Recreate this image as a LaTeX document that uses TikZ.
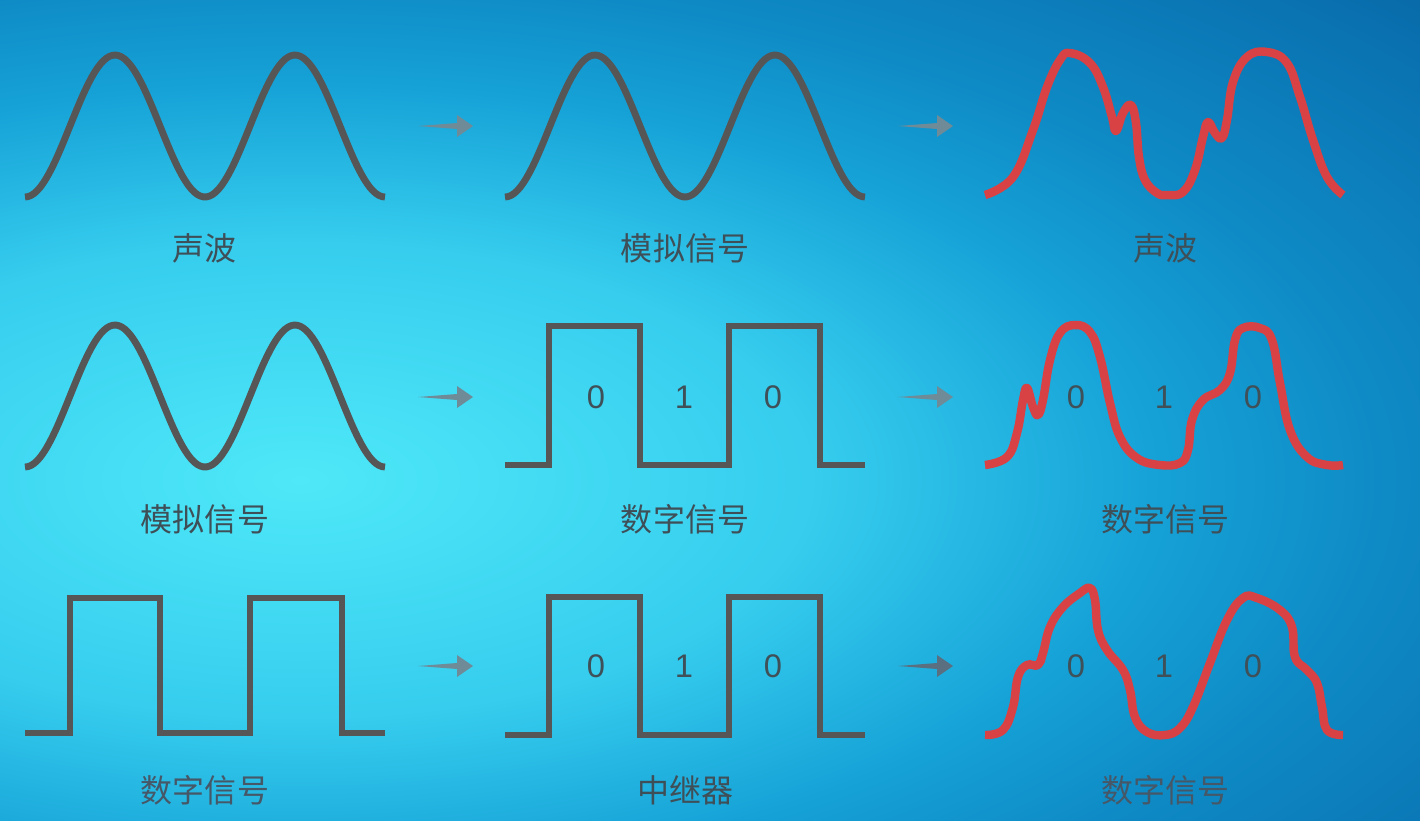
\documentclass[tikz,border=0pt]{standalone}
\usepackage{fontspec}
\setsansfont{Liberation Sans}
\newfontfamily\cjk{Noto Sans CJK SC}
\definecolor{glowA}{HTML}{4EE8F8}
\definecolor{glowB}{HTML}{36CDEE}
\definecolor{glowC}{HTML}{16A2D7}
\definecolor{glowD}{HTML}{0E8AC5}
\definecolor{glowE}{HTML}{0A72B1}
\definecolor{bgdeep}{HTML}{075C9A}
\definecolor{wavegray}{HTML}{565656}
\definecolor{wavered}{HTML}{D94244}
\definecolor{captext}{HTML}{3F4F58}
\definecolor{capfade}{HTML}{465868}
\definecolor{digittext}{HTML}{3F5058}
\definecolor{arrowgray}{HTML}{6F8B97}
\definecolor{arrowdark}{HTML}{5A7080}
\pgfdeclareradialshading{bgglow}{\pgfpoint{0bp}{0bp}}{color(0bp)=(glowA); color(7.5bp)=(glowB); color(12.5bp)=(glowC); color(16bp)=(glowD); color(21bp)=(glowE); color(25bp)=(bgdeep); color(50bp)=(bgdeep)}
\tikzset{
  graywave/.style={draw=wavegray, line width=1.95pt},
  redwave/.style={draw=wavered, line width=2.4pt, line join=round},
  caption/.style={text=captext, font=\cjk\fontsize{9.1}{11}\selectfont, inner sep=0pt},
  digit/.style={text=digittext, font=\sffamily\fontsize{9.3}{10}\selectfont, inner sep=0pt},
  arrowhint/.style={fill=arrowgray}
}
\begin{document}
\begin{tikzpicture}[x=0.01cm, y=-0.01cm]
\useasboundingbox (0,0) rectangle (1420,820);
\fill[bgdeep] (0,0) rectangle (1420,820);
\begin{scope}
\clip (0,0) rectangle (1420,820);
\shade[shading=bgglow] (300,480) ellipse [x radius=17cm, y radius=7.9cm];
\end{scope}
\draw[graywave] plot[domain=25:385, samples=120] (\x, {126-71*cos(2*(\x-115))});
\draw[graywave] plot[domain=505:865, samples=120] (\x, {126-71*cos(2*(\x-595))});
\draw[redwave] plot[smooth, tension=0.7] coordinates {(985,195) (1013,177) (1033,130) (1047,87) (1060,60) (1070,53) (1090,63) (1103,87) (1112,117) (1116,131) (1123,113) (1131,105) (1136,123) (1139,157) (1145,180) (1157,193) (1167,195) (1183,192) (1195,170) (1203,137) (1208,122) (1215,133) (1222,138) (1227,120) (1233,82) (1247,57) (1267,52) (1287,63) (1300,97) (1313,140) (1327,177) (1343,195)};
\draw[graywave] plot[domain=25:385, samples=120] (\x, {396-71*cos(2*(\x-115))});
\draw[graywave] (505,465) -- (549,465) -- (549,326) -- (640,326) -- (640,465) -- (729,465) -- (729,326) -- (820,326) -- (820,465) -- (865,465);
\draw[redwave] plot[smooth, tension=0.7] coordinates {(985,465) (1007,457) (1017,433) (1023,400) (1027,388) (1033,407) (1038,415) (1043,400) (1050,360) (1060,333) (1075,325) (1090,332) (1100,357) (1110,403) (1120,437) (1137,458) (1160,465) (1180,463) (1188,450) (1192,420) (1203,400) (1220,390) (1230,373) (1235,340) (1243,328) (1260,328) (1272,340) (1280,383) (1290,430) (1307,457) (1327,465) (1343,465)};
\draw[graywave] (25,733) -- (70,733) -- (70,598) -- (160,598) -- (160,733) -- (250,733) -- (250,598) -- (342,598) -- (342,733) -- (385,733);
\draw[graywave] (505,735) -- (549,735) -- (549,597) -- (640,597) -- (640,735) -- (729,735) -- (729,597) -- (820,597) -- (820,735) -- (865,735);
\draw[redwave] plot[smooth, tension=0.7] coordinates {(985,735) (1003,730) (1013,707) (1018,677) (1027,665) (1038,665) (1043,653) (1050,627) (1063,607) (1080,593) (1090,588) (1095,600) (1098,630) (1107,650) (1123,670) (1130,690) (1135,717) (1147,732) (1165,735) (1180,728) (1193,707) (1210,663) (1227,620) (1243,598) (1257,598) (1280,610) (1292,627) (1295,657) (1307,670) (1317,683) (1322,707) (1327,730) (1343,735)};
\node[caption] (sound1) at (205,248) {声波};
\node[caption] (analog1) at (685,248) {模拟信号};
\node[caption] (sound2) at (1165,248) {声波};
\node[caption] (analog2) at (205,519) {模拟信号};
\node[caption] (digital1) at (685,519) {数字信号};
\node[caption] (digital2) at (1165,519) {数字信号};
\node[caption, text=capfade] (digital3) at (205,790) {数字信号};
\node[caption] (relay) at (685,790) {中继器};
\node[caption, text=capfade] (digital4) at (1165,790) {数字信号};
\node[digit] (b1) at (596,397) {0};
\node[digit] (b2) at (684,397) {1};
\node[digit] (b3) at (773,397) {0};
\node[digit] (b4) at (1076,397) {0};
\node[digit] (b5) at (1164,397) {1};
\node[digit] (b6) at (1253,397) {0};
\node[digit] (b7) at (596,666) {0};
\node[digit] (b8) at (684,666) {1};
\node[digit] (b9) at (773,666) {0};
\node[digit] (b10) at (1076,666) {0};
\node[digit] (b11) at (1164,666) {1};
\node[digit] (b12) at (1253,666) {0};
\coordinate (arA) at (418,126);
\coordinate (arB) at (898,126);
\coordinate (arC) at (418,397);
\coordinate (arD) at (898,397);
\coordinate (arE) at (418,666);
\coordinate (arF) at (898,666);
\fill[arrowhint] (arA) -- ++(39,-3) -- ++(0,-8) -- ++(16,11) -- ++(-16,11) -- ++(0,-8) -- cycle;
\fill[arrowhint] (arB) -- ++(39,-3) -- ++(0,-8) -- ++(16,11) -- ++(-16,11) -- ++(0,-8) -- cycle;
\fill[arrowhint] (arC) -- ++(39,-3) -- ++(0,-8) -- ++(16,11) -- ++(-16,11) -- ++(0,-8) -- cycle;
\fill[arrowhint] (arD) -- ++(39,-3) -- ++(0,-8) -- ++(16,11) -- ++(-16,11) -- ++(0,-8) -- cycle;
\fill[arrowhint] (arE) -- ++(39,-3) -- ++(0,-8) -- ++(16,11) -- ++(-16,11) -- ++(0,-8) -- cycle;
\fill[arrowhint, fill=arrowdark] (arF) -- ++(39,-3) -- ++(0,-8) -- ++(16,11) -- ++(-16,11) -- ++(0,-8) -- cycle;
\end{tikzpicture}
\end{document}
